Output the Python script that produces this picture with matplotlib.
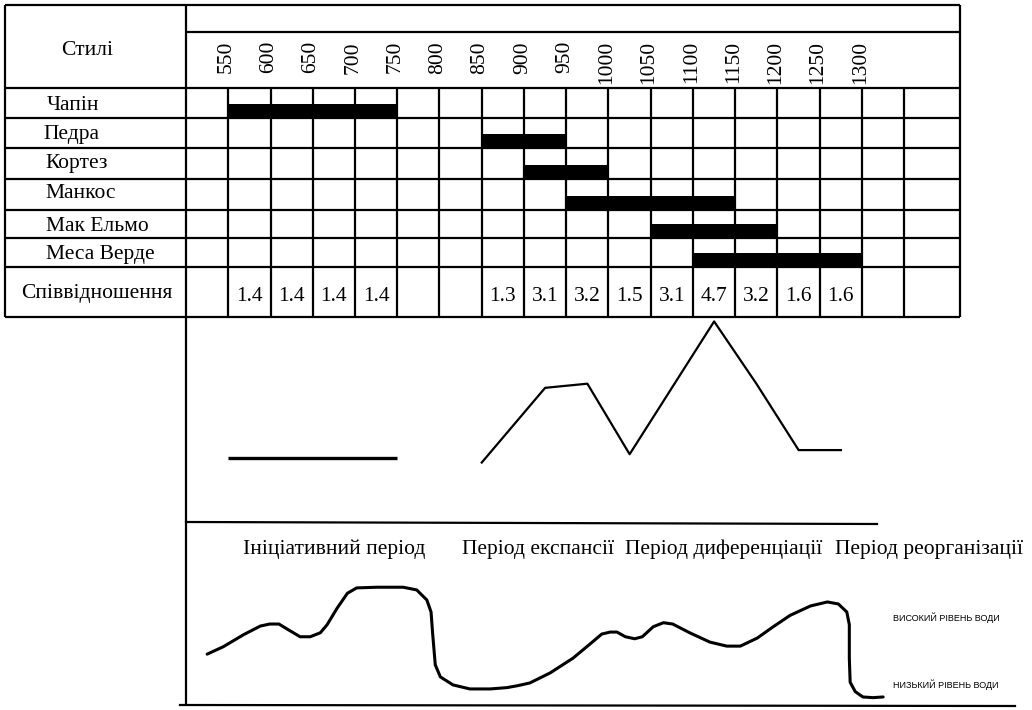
import matplotlib
matplotlib.use("Agg")
import matplotlib.pyplot as plt

plt.rcParams['font.family'] = ['Liberation Serif', 'DejaVu Serif']

## --- data ---
styles = ['Чапін', 'Педра', 'Кортез', 'Манкос', 'Мак Ельмо', 'Меса Верде']
style_start = [550, 850, 900, 950, 1050, 1100]
style_end = [750, 950, 1000, 1150, 1200, 1300]

year_labels = [550, 600, 650, 700, 750, 800, 850, 900, 950, 1000,
               1050, 1100, 1150, 1200, 1250, 1300]

ratio_years = [575, 625, 675, 725, 875, 925, 975, 1025, 1075, 1125, 1175, 1225, 1275]
ratio_vals = [1.4, 1.4, 1.4, 1.4, 1.3, 3.1, 3.2, 1.5, 3.1, 4.7, 3.2, 1.6, 1.6]

# middle graph: two pieces
seg1_years = [550, 750]
seg1_vals = [1.4, 1.4]
seg2_years = [850, 925, 975, 1025, 1075, 1125, 1175, 1225, 1275]
seg2_vals = [1.3, 3.1, 3.2, 1.5, 3.1, 4.7, 3.2, 1.6, 1.6]

periods = ['Ініціативний період', 'Період експансії',
           'Період диференціації', 'Період реорганізації']

# water level (0 = low, 1 = high)
water_years = [525, 544, 568, 588, 599, 610, 623, 635, 647, 659, 667, 679, 691,
               702, 726, 757, 773, 785, 790, 792, 795, 801, 816, 836, 860, 880,
               893, 907, 931, 958, 978, 992, 1002, 1010, 1020, 1031, 1040, 1053,
               1065, 1076, 1096, 1120, 1140, 1156, 1176, 1195, 1215, 1239, 1259,
               1272, 1282, 1285, 1285, 1286, 1292, 1301, 1313, 1325]
water_level = [0.46, 0.57, 0.75, 0.88, 0.91, 0.91, 0.81, 0.72, 0.72, 0.78, 0.90,
               1.15, 1.37, 1.45, 1.46, 1.46, 1.42, 1.27, 1.09, 0.75, 0.30, 0.12,
               0.00, -0.06, -0.06, -0.04, -0.01, 0.03, 0.18, 0.40, 0.61, 0.76,
               0.79, 0.79, 0.72, 0.69, 0.72, 0.87, 0.93, 0.91, 0.78, 0.64, 0.58,
               0.58, 0.70, 0.87, 1.04, 1.18, 1.24, 1.21, 1.09, 0.90, 0.40, 0.04,
               -0.10, -0.18, -0.19, -0.18]

## --- layout (pixels) ---
W, H = 1032, 710
LW = 1.6
FS = 15.5


def px2yr(px):
    return 500 + (px - 186) * 50 / 42.25


XL = (px2yr(0), px2yr(W))
row_edges = [88, 118, 148, 179, 210, 238, 267, 317]

fig = plt.figure(figsize=(W / 100, H / 100), dpi=100)
ax = fig.add_axes([0, 0, 1, 1])
ax.set_xlim(XL)
ax.set_ylim(H, 0)
ax.axis('off')

left, right = px2yr(5), px2yr(960)
# table frame
ax.hlines([5] + row_edges, left, right, color='k', lw=LW)
ax.hlines(32, 500, right, color='k', lw=LW)
ax.vlines([left, right], 5, 317, color='k', lw=LW)
ax.vlines(500, 5, 705, color='k', lw=LW)
ax.vlines(range(550, 1351, 50), 88, 317, color='k', lw=LW)

# header
ax.text(px2yr(87), 55, 'Стилі', ha='center', va='baseline', fontsize=FS)
for yr in year_labels:
    ax.text(yr - 2, 41, str(yr), rotation=90, ha='center', va='top', fontsize=FS)

# style rows
label_x = [47, 43, 45, 45, 46, 46]
label_base = [110, 139, 168, 198, 231, 259]
for name, lx, by in zip(styles, label_x, label_base):
    ax.text(px2yr(lx), by, name, ha='left', va='baseline', fontsize=FS)

bar_y = [b - 7 for b in row_edges[1:7]]
ax.barh(bar_y, [e - s for s, e in zip(style_start, style_end)], left=style_start,
        height=14, color='k')

# ratio row
ax.text(px2yr(21), 298, 'Співвідношення', ha='left', va='baseline', fontsize=FS)
for yr, v in zip(ratio_years, ratio_vals):
    ax.text(yr, 301, f'{v}', ha='center', va='baseline', fontsize=FS)

# panel separators
ax.plot([500, px2yr(877)], [522, 524], color='k', lw=LW)
ax.plot([px2yr(180), px2yr(1015)], [705, 706], color='k', lw=LW)

# period titles
period_x = [243, 462, 625, 835]
for p, px in zip(periods, period_x):
    ax.text(px2yr(px), 554, p, ha='left', va='baseline', fontsize=FS)

# middle graph
ax_mid = fig.add_axes([0, 1 - 523 / H, 1, (523 - 317) / H])
ax_mid.set_xlim(XL)
ax_mid.set_ylim(-0.157, 4.807)
ax_mid.axis('off')
ax_mid.patch.set_alpha(0)
ax_mid.plot(seg1_years, seg1_vals, color='k', lw=2.4, solid_capstyle='butt')
ax_mid.plot(seg2_years, seg2_vals, color='k', lw=1.6)

# water level graph
ax_bot = fig.add_axes([0, 1 - 705 / H, 1, (705 - 523) / H])
ax_bot.set_xlim(XL)
ax_bot.set_ylim(-0.30, 2.42)
ax_bot.axis('off')
ax_bot.patch.set_alpha(0)
ax_bot.plot(water_years, water_level, color='k', lw=2.2,
            solid_joinstyle='round', solid_capstyle='round')
ax_bot.text(px2yr(893), 1.0, 'ВИСОКИЙ РІВЕНЬ ВОДИ', va='center', ha='left',
            fontsize=6.5, family=['Liberation Sans', 'DejaVu Sans'])
ax_bot.text(px2yr(893), 0.0, 'НИЗЬКИЙ РІВЕНЬ ВОДИ', va='center', ha='left',
            fontsize=6.5, family=['Liberation Sans', 'DejaVu Sans'])

fig.savefig('out.png', dpi=100, facecolor='white')
